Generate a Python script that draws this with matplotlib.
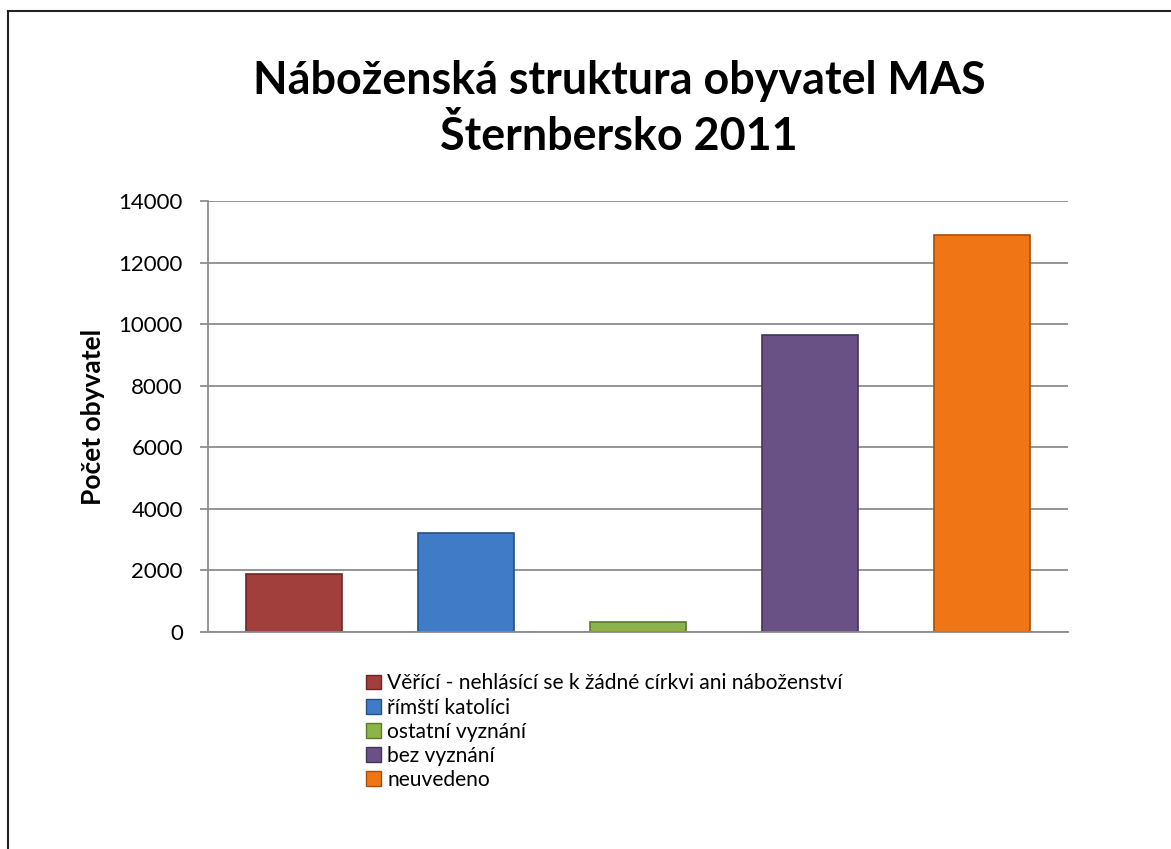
import matplotlib
matplotlib.use("Agg")
import matplotlib.pyplot as plt
from matplotlib.lines import Line2D
from matplotlib.patches import Patch

categories = ["Věřící - nehlásící se k žádné církvi ani náboženství",
              "římští katolíci",
              "ostatní vyznání",
              "bez vyznání",
              "neuvedeno"]
values = [1880, 3210, 310, 9640, 12890]
colors = ["#A13F3D", "#3F7BC6", "#8DB449", "#695186", "#F07514"]
edges = ["#6E2523", "#254F86", "#5C7A2C", "#433358", "#A94E0B"]
yticks = [0, 2000, 4000, 6000, 8000, 10000, 12000, 14000]

plt.rcParams['font.family'] = ['Lato', 'DejaVu Sans']

fig = plt.figure(figsize=(11.71, 8.49), dpi=100)
ax = fig.add_axes([208 / 1171, 1 - 632 / 849, 860 / 1171, 431 / 849])

x = range(len(values))
bars = ax.bar(x, values, width=0.56, color=colors, edgecolor=edges, linewidth=1.2)

ax.set_xlim(-0.5, len(values) - 0.5)
ax.set_ylim(0, 14000)
ax.set_yticks(yticks)
ax.set_yticklabels([str(t) for t in yticks], fontsize=16)
ax.set_xticks([])
ax.yaxis.grid(True, color="#8C8C8C", linewidth=1.3)
ax.set_axisbelow(True)
for side in ["top", "right"]:
    ax.spines[side].set_visible(False)
ax.spines["left"].set_color("#8C8C8C")
ax.spines["bottom"].set_color("#8C8C8C")
ax.spines["left"].set_linewidth(1.3)
ax.spines["bottom"].set_linewidth(1.3)
ax.tick_params(axis="y", length=6, color="#8C8C8C", width=1.3, pad=12)

ax.set_ylabel("Počet obyvatel", fontsize=19, fontweight="bold", labelpad=10)

fig.text(619 / 1171, 1 - 109 / 849, "Náboženská struktura obyvatel MAS\nŠternbersko 2011",
         ha="center", va="center", fontsize=32.3, fontweight="bold", linespacing=1.4)

handles = [Patch(facecolor=c, edgecolor=e) for c, e in zip(colors, edges)]
fig.legend(handles, categories, loc="upper left", bbox_to_anchor=(358 / 1171, 1 - 665 / 849),
           frameon=False, fontsize=15.1, handlelength=0.7, handleheight=0.7,
           handletextpad=0.3, labelspacing=0.2, borderaxespad=0)

# outer chart frame (only left and top edges visible)
fx = 7.5 / 1171
fy = 1 - 10.5 / 849
fig.add_artist(Line2D([fx, fx], [0, fy], color="#222222", linewidth=1.5))
fig.add_artist(Line2D([fx, 1], [fy, fy], color="#222222", linewidth=1.5))

plt.savefig("out.png", dpi=100)
